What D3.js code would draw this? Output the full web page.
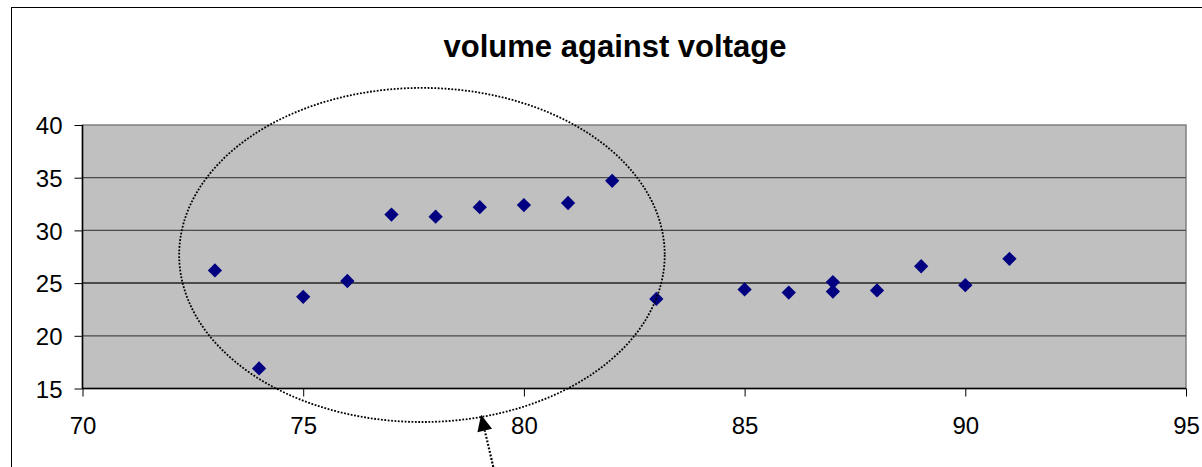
<!DOCTYPE html>
<html>
<head>
<meta charset="utf-8">
<script src="https://cdn.jsdelivr.net/npm/d3@7"></script>
<style>
  body { margin: 0; background: #fff; overflow: hidden; }
  text { font-family: Arial, "Liberation Sans", sans-serif; }
</style>
</head>
<body>
<svg></svg>
<script>
// data
const voltage = [73, 74, 75, 76, 77, 78, 79, 80, 81, 82, 83, 85, 86, 87, 87, 88, 89, 90, 91];
const volume = [26.2, 16.9, 23.7, 25.2, 31.5, 31.3, 32.2, 32.4, 32.6, 34.7, 23.5, 24.4, 24.1, 25.1, 24.2, 24.3, 26.6, 24.8, 27.3];
const x_ticks = [70, 75, 80, 85, 90, 95];
const y_ticks = [15, 20, 25, 30, 35, 40];
const title = "volume against voltage";

const width = 1202,
  height = 467;
const margin = { left: 82.5, right: 16, top: 125, bottom: 78.5 };

const svg = d3.select("svg").attr("width", width).attr("height", height);

const x_scale = d3.scaleLinear().domain([70, 95]).range([margin.left, width - margin.right]);
const y_scale = d3.scaleLinear().domain([15, 40]).range([height - margin.bottom, margin.top]);

// chart border (runs off the right and bottom)
svg
  .append("rect")
  .attr("x", 11.5)
  .attr("y", 7.5)
  .attr("width", width)
  .attr("height", height)
  .attr("fill", "#fff")
  .attr("stroke", "#000")
  .attr("stroke-width", 1);

// plot area
svg
  .append("rect")
  .attr("x", x_scale(70))
  .attr("y", y_scale(40))
  .attr("width", x_scale(95) - x_scale(70))
  .attr("height", y_scale(15) - y_scale(40))
  .attr("fill", "#c0c0c0")
  .attr("stroke", "#808080")
  .attr("stroke-width", 1.5);

// gridlines
svg
  .append("g")
  .selectAll("line")
  .data(y_ticks.filter((d) => d > 15 && d < 40))
  .join("line")
  .attr("x1", x_scale(70))
  .attr("x2", x_scale(95))
  .attr("y1", (d) => y_scale(d))
  .attr("y2", (d) => y_scale(d))
  .attr("stroke", "#4a4a4a")
  .attr("stroke-width", (d) => (d === 25 ? 2 : 1.2));

// y axis
const y_axis = svg
  .append("g")
  .attr("transform", `translate(${x_scale(70)},0)`)
  .call(d3.axisLeft(y_scale).tickValues(y_ticks).tickSize(8).tickPadding(12));
// x axis
const x_axis = svg
  .append("g")
  .attr("transform", `translate(0,${y_scale(15)})`)
  .call(d3.axisBottom(x_scale).tickValues(x_ticks).tickSize(8).tickPadding(20));

[y_axis, x_axis].forEach((ax) => {
  ax.select(".domain").attr("stroke", "#000").attr("stroke-width", 1.5);
  ax.selectAll(".tick line").attr("stroke", "#000").attr("stroke-width", 1);
  ax.selectAll(".tick text")
    .attr("fill", "#000")
    .style("font-size", "24px")
    .style("font-family", "Arial, 'Liberation Sans', sans-serif");
});
y_axis.select(".domain").attr("d", `M0,${y_scale(40)}V${y_scale(15)}`);
x_axis.select(".domain").attr("d", `M${x_scale(70)},0H${x_scale(95)}`);
y_axis.selectAll(".tick text").attr("dy", "0.36em");

// title
svg
  .append("text")
  .attr("x", 615)
  .attr("y", 57)
  .attr("text-anchor", "middle")
  .style("font-size", "31px")
  .style("font-weight", "bold")
  .text(title);

// points
const diamond = d3.symbol().type(d3.symbolDiamond2).size(130);
svg
  .append("g")
  .selectAll("path")
  .data(voltage.map((v, i) => [v, volume[i]]))
  .join("path")
  .attr("transform", (d) => `translate(${x_scale(d[0])},${y_scale(d[1])})`)
  .attr("d", diamond)
  .attr("fill", "#000080");

// annotation: dotted ellipse round the first group, with an arrow pointing at it
const ring = { cx: 77.69, cy: 27.67, rx: 5.5, ry: 15.85 };
svg
  .append("ellipse")
  .attr("cx", x_scale(ring.cx))
  .attr("cy", y_scale(ring.cy))
  .attr("rx", x_scale(ring.cx + ring.rx) - x_scale(ring.cx))
  .attr("ry", y_scale(ring.cy - ring.ry) - y_scale(ring.cy))
  .attr("fill", "none")
  .attr("stroke", "#000")
  .attr("stroke-width", 1.8)
  .attr("stroke-dasharray", "1.8,1.6");

const arrow = { x1: 79.4, y1: 5.9, x2: 79.03, y2: 12.5 };
const ax1 = x_scale(arrow.x1),
  ay1 = y_scale(arrow.y1),
  ax2 = x_scale(arrow.x2),
  ay2 = y_scale(arrow.y2);
const ang = Math.atan2(ay2 - ay1, ax2 - ax1);
const head_len = 16,
  head_half = 7.5;
const bx = ax2 - head_len * Math.cos(ang),
  by = ay2 - head_len * Math.sin(ang);

svg
  .append("line")
  .attr("x1", ax1)
  .attr("y1", ay1)
  .attr("x2", bx)
  .attr("y2", by)
  .attr("stroke", "#000")
  .attr("stroke-width", 2.2)
  .attr("stroke-dasharray", "2,1.6");

svg
  .append("path")
  .attr(
    "d",
    `M${ax2},${ay2}` +
      `L${bx + head_half * Math.sin(ang)},${by - head_half * Math.cos(ang)}` +
      `L${bx - head_half * Math.sin(ang)},${by + head_half * Math.cos(ang)}Z`
  )
  .attr("fill", "#000");
</script>
</body>
</html>
